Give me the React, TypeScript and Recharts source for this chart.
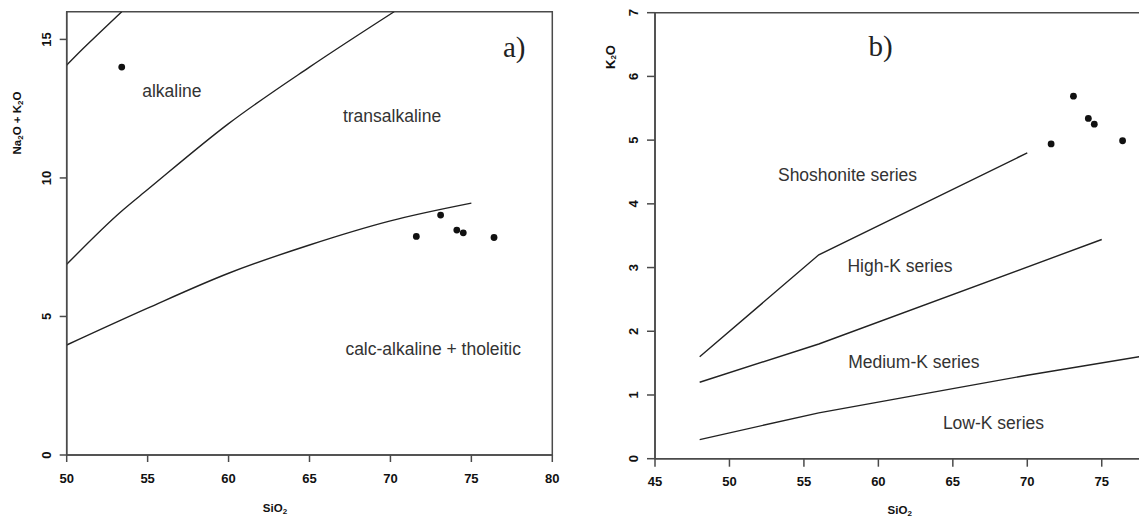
import React from 'react';
import { ComposedChart, XAxis, YAxis, Line, Scatter, ReferenceArea, ReferenceDot } from 'recharts';

// ---------- Panel a) data : Na2O + K2O vs SiO2 ----------
const aXTicks = [50, 55, 60, 65, 70, 75, 80];
const aYTicks = [0, 5, 10, 15];
const aSampleSiO2 = [53.4, 71.6, 73.1, 74.1, 74.5, 76.4];
const aSampleAlk = [14.0, 7.89, 8.66, 8.12, 8.02, 7.85];

const upperBoundX = [50, 51, 52, 53.4];
const upperBoundY = [14.07, 14.66, 15.22, 16];
const alkTransX = [50, 53.35, 55, 60, 65, 70.23];
const alkTransY = [6.88, 8.78, 9.58, 11.96, 14.0, 16];
const transCalcX = [50, 55, 60, 65, 70, 75];
const transCalcY = [3.97, 5.3, 6.56, 7.58, 8.45, 9.09];

const aLabels = ['alkaline', 'transalkaline', 'calc-alkaline + tholeitic'];
const aLabelX = [56.5, 70.1, 72.64];
const aLabelY = [13.15, 12.23, 3.83];

// ---------- Panel b) data : K2O vs SiO2 ----------
const bXTicks = [45, 50, 55, 60, 65, 70, 75];
const bYTicks = [0, 1, 2, 3, 4, 5, 6, 7];
const bSampleSiO2 = [71.6, 73.1, 74.1, 74.5, 76.4];
const bSampleK2O = [4.94, 5.69, 5.34, 5.25, 4.99];

const shoshX = [48, 56, 70];
const shoshY = [1.6, 3.2, 4.8];
const highKX = [48, 56, 75];
const highKY = [1.2, 1.8, 3.44];
const lowKX = [48, 56, 65, 70, 78];
const lowKY = [0.3, 0.72, 1.1, 1.31, 1.62];

const bLabels = ['Shoshonite series', 'High-K series', 'Medium-K series', 'Low-K series'];
const bLabelX = [57.93, 61.45, 62.38, 67.73];
const bLabelY = [4.45, 3.03, 1.52, 0.556];

const zip = (xs: number[], ys: number[]) => xs.map((x, i) => ({ x, y: ys[i] }));

const SANS = '"Liberation Sans", Arial, Helvetica, sans-serif';
const SERIF = '"Liberation Serif", "Times New Roman", serif';
const AXIS = '#4a4a4a';
const LINE = '#222';

const tickStyle = { fontFamily: SANS, fontSize: 13, fontWeight: 700, fill: '#111' } as const;

const makeXTick = (offset: number) => (props: any) => {
  const { x, y, payload } = props;
  return (
    <text x={x} y={y + offset} textAnchor="middle" dominantBaseline="central" style={tickStyle}>
      {payload.value}
    </text>
  );
};

const makeYTick = (offset: number) => (props: any) => {
  const { x, y, payload } = props;
  const cx = x - offset;
  return (
    <text
      x={cx}
      y={y}
      transform={`rotate(-90 ${cx} ${y})`}
      textAnchor="middle"
      dominantBaseline="central"
      style={tickStyle}
    >
      {payload.value}
    </text>
  );
};

const dotShape = (p: any) => <circle cx={p.cx} cy={p.cy} r={3.4} fill="#111" />;

const regionLabel = (text: string, size = 17.5) => (p: any) => (
  <text
    x={p.cx}
    y={p.cy}
    textAnchor="middle"
    dominantBaseline="central"
    style={{ fontFamily: SANS, fontSize: size, fill: '#333' }}
  >
    {text}
  </text>
);

const panelLetter = (text: string) => (p: any) => (
  <text
    x={p.cx}
    y={p.cy}
    textAnchor="middle"
    dominantBaseline="central"
    style={{ fontFamily: SERIF, fontSize: 29, fill: '#222' }}
  >
    {text}
  </text>
);

const titleStyle = { fontFamily: SANS, fontSize: 11.5, fontWeight: 700, fill: '#111' } as const;

const Sub = ({ children }: { children: React.ReactNode }) => (
  <tspan fontSize={8} dy={3}>{children}</tspan>
);

const lineProps = {
  dataKey: 'y',
  stroke: LINE,
  strokeWidth: 1.4,
  dot: false,
  activeDot: false,
  isAnimationActive: false,
} as const;

function PanelA() {
  return (
    <ComposedChart
      width={560}
      height={516}
      margin={{ top: 11.7, right: 7.7, bottom: 31, left: 6.7 }}
    >
      <XAxis
        type="number"
        dataKey="x"
        domain={[50, 80]}
        ticks={aXTicks}
        interval={0}
        allowDataOverflow
        axisLine={{ stroke: AXIS, strokeWidth: 1.5 }}
        tickLine={{ stroke: AXIS, strokeWidth: 1.5 }}
        tickSize={7}
        tickMargin={0}
        height={30}
        tick={makeXTick(16)}
        label={{
          content: () => (
            <text x={275} y={508} textAnchor="middle" dominantBaseline="central" style={titleStyle}>
              SiO<Sub>2</Sub>
            </text>
          ),
        }}
      />
      <YAxis
        type="number"
        dataKey="y"
        domain={[0, 16]}
        ticks={aYTicks}
        interval={0}
        allowDataOverflow
        width={60}
        axisLine={{ stroke: AXIS, strokeWidth: 1.5 }}
        tickLine={{ stroke: AXIS, strokeWidth: 1.5 }}
        tickSize={7}
        tickMargin={0}
        tick={makeYTick(13.7)}
        label={{
          content: () => (
            <text
              x={17}
              y={123}
              transform="rotate(-90 17 123)"
              textAnchor="middle"
              dominantBaseline="central"
              style={titleStyle}
            >
              Na<Sub>2</Sub>
              <tspan dy={-3}>O + K</tspan>
              <Sub>2</Sub>
              <tspan dy={-3}>O</tspan>
            </text>
          ),
        }}
      />
      <ReferenceArea x1={50} x2={80} y1={0} y2={16} fill="none" stroke={AXIS} strokeWidth={1.5} fillOpacity={0} />
      <Line {...lineProps} data={zip(upperBoundX, upperBoundY)} type="monotone" />
      <Line {...lineProps} data={zip(alkTransX, alkTransY)} type="monotone" />
      <Line {...lineProps} data={zip(transCalcX, transCalcY)} type="monotone" />
      <Scatter data={zip(aSampleSiO2, aSampleAlk)} dataKey="y" shape={dotShape} isAnimationActive={false} />
      {aLabels.map((t, i) => (
        <ReferenceDot key={t} x={aLabelX[i]} y={aLabelY[i]} r={0} ifOverflow="visible" shape={regionLabel(t)} />
      ))}
      <ReferenceDot x={77.65} y={14.73} r={0} ifOverflow="visible" shape={panelLetter('a)')} />
    </ComposedChart>
  );
}

function PanelB() {
  return (
    <ComposedChart
      width={640}
      height={516}
      margin={{ top: 12.7, right: 23.8, bottom: 27.3, left: 35 }}
    >
      <XAxis
        type="number"
        dataKey="x"
        domain={[45, 80]}
        ticks={bXTicks}
        interval={0}
        allowDataOverflow
        axisLine={{ stroke: AXIS, strokeWidth: 1.5 }}
        tickLine={{ stroke: AXIS, strokeWidth: 1.5 }}
        tickSize={8}
        tickMargin={0}
        height={30}
        tick={makeXTick(14.3)}
        label={{
          content: () => (
            <text x={339.7} y={510} textAnchor="middle" dominantBaseline="central" style={titleStyle}>
              SiO<Sub>2</Sub>
            </text>
          ),
        }}
      />
      <YAxis
        type="number"
        dataKey="y"
        domain={[0, 7]}
        ticks={bYTicks}
        interval={0}
        allowDataOverflow
        width={60}
        axisLine={{ stroke: AXIS, strokeWidth: 1.5 }}
        tickLine={{ stroke: AXIS, strokeWidth: 1.5 }}
        tickSize={8}
        tickMargin={0}
        tick={makeYTick(13)}
        label={{
          content: () => (
            <text
              x={50}
              y={57}
              transform="rotate(-90 50 57)"
              textAnchor="middle"
              dominantBaseline="central"
              style={{ ...titleStyle, fontSize: 13 }}
            >
              K<Sub>2</Sub>
              <tspan dy={-3}>O</tspan>
            </text>
          ),
        }}
      />
      <ReferenceArea x1={45} x2={80} y1={0} y2={7} fill="none" stroke={AXIS} strokeWidth={1.5} fillOpacity={0} />
      <Line {...lineProps} data={zip(shoshX, shoshY)} type="linear" />
      <Line {...lineProps} data={zip(highKX, highKY)} type="linear" />
      <Line {...lineProps} data={zip(lowKX, lowKY)} type="linear" />
      <Scatter data={zip(bSampleSiO2, bSampleK2O)} dataKey="y" shape={dotShape} isAnimationActive={false} />
      {bLabels.map((t, i) => (
        <ReferenceDot key={t} x={bLabelX[i]} y={bLabelY[i]} r={0} ifOverflow="visible" shape={regionLabel(t)} />
      ))}
      <ReferenceDot x={60.15} y={6.47} r={0} ifOverflow="visible" shape={panelLetter('b)')} />
    </ComposedChart>
  );
}

export default function App() {
  return (
    <div
      style={{
        position: 'fixed',
        left: 0,
        top: 0,
        width: 1139,
        height: 516,
        overflow: 'hidden',
        background: '#fff',
      }}
    >
      <div style={{ position: 'absolute', left: 0, top: 0 }}>
        <PanelA />
      </div>
      <div style={{ position: 'absolute', left: 560, top: 0 }}>
        <PanelB />
      </div>
    </div>
  );
}
